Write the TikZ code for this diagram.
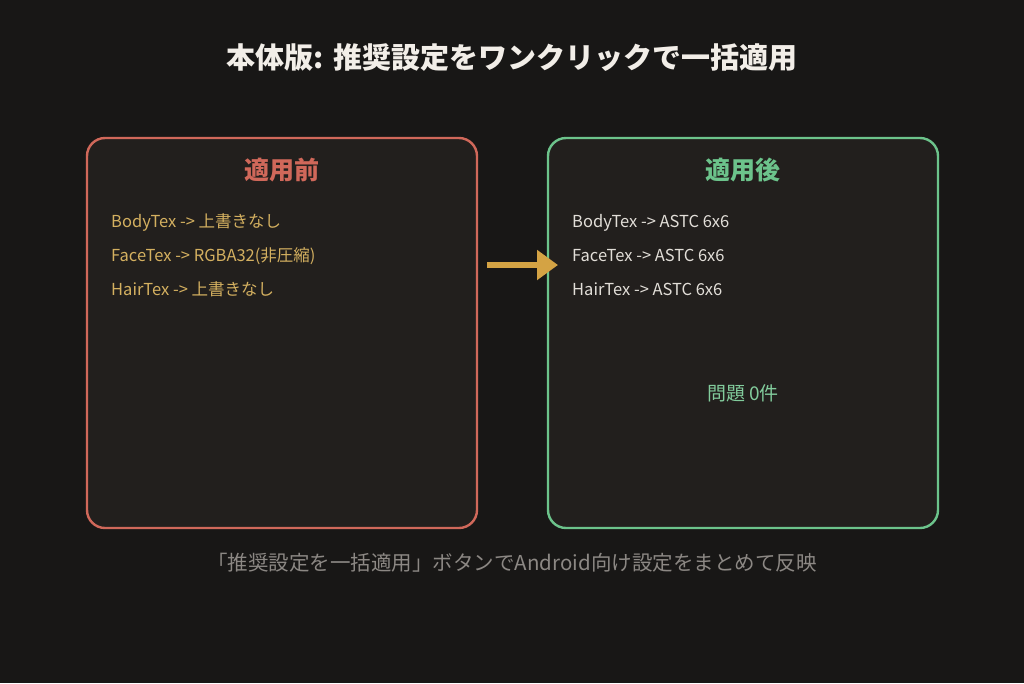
\documentclass[tikz,border=0pt]{standalone}
\usepackage{fontspec}
\setmainfont{Noto Sans CJK JP}
\usetikzlibrary{arrows.meta}
\definecolor{bg}{HTML}{181716}
\definecolor{panel}{HTML}{221F1D}
\definecolor{redc}{HTML}{D0685A}
\definecolor{greenc}{HTML}{6CC38B}
\definecolor{goldtxt}{HTML}{D4B060}
\definecolor{arrowc}{HTML}{D4A344}
\definecolor{lighttxt}{HTML}{E2DED8}
\definecolor{graytxt}{HTML}{8C8884}
\definecolor{titletxt}{HTML}{F2EEE8}
\tikzset{
  panelbox/.style={draw=#1, line width=2.4pt, fill=panel, rounded corners=18pt},
  item/.style={anchor=base west, inner sep=0pt, font=\fontsize{16.5}{19}\selectfont},
}
\begin{document}
\begin{tikzpicture}[x=1pt,y=-1pt]
\fill[bg] (0,0) rectangle (1024,683);
\useasboundingbox (0,0) rectangle (1024,683);
\node[text=titletxt, font=\fontsize{29}{34}\selectfont\bfseries] (title) at (512,58) {本体版: 推奨設定をワンクリックで一括適用};
\draw[panelbox=redc] (87,138) rectangle (477,528);
\draw[panelbox=greenc] (548,138) rectangle (938,528);
\node[text=redc, font=\fontsize{25}{29}\selectfont\bfseries] (ltitle) at (282,170) {適用前};
\node[text=greenc, font=\fontsize{25}{29}\selectfont\bfseries] (rtitle) at (743,170) {適用後};
\node[item, text=goldtxt] (l1) at (111,227) {BodyTex -> 上書きなし};
\node[item, text=goldtxt] (l2) at (111,261) {FaceTex -> RGBA32(非圧縮)};
\node[item, text=goldtxt] (l3) at (111,295) {HairTex -> 上書きなし};
\node[item, text=lighttxt] (r1) at (572,227) {BodyTex -> ASTC 6x6};
\node[item, text=lighttxt] (r2) at (572,261) {FaceTex -> ASTC 6x6};
\node[item, text=lighttxt] (r3) at (572,295) {HairTex -> ASTC 6x6};
\node[text=greenc!85!white, font=\fontsize{19}{22}\selectfont] (res) at (743,393) {問題 0件};
\coordinate (as) at (487,265);
\coordinate (ae) at (558,265);
\draw[arrowc, line width=6pt, -{Triangle[length=21pt,width=29pt]}] (as) -- (ae);
\node[text=graytxt, font=\fontsize{20.5}{24}\selectfont] (foot) at (512,563) {「推奨設定を一括適用」ボタンでAndroid向け設定をまとめて反映};
\end{tikzpicture}
\end{document}
